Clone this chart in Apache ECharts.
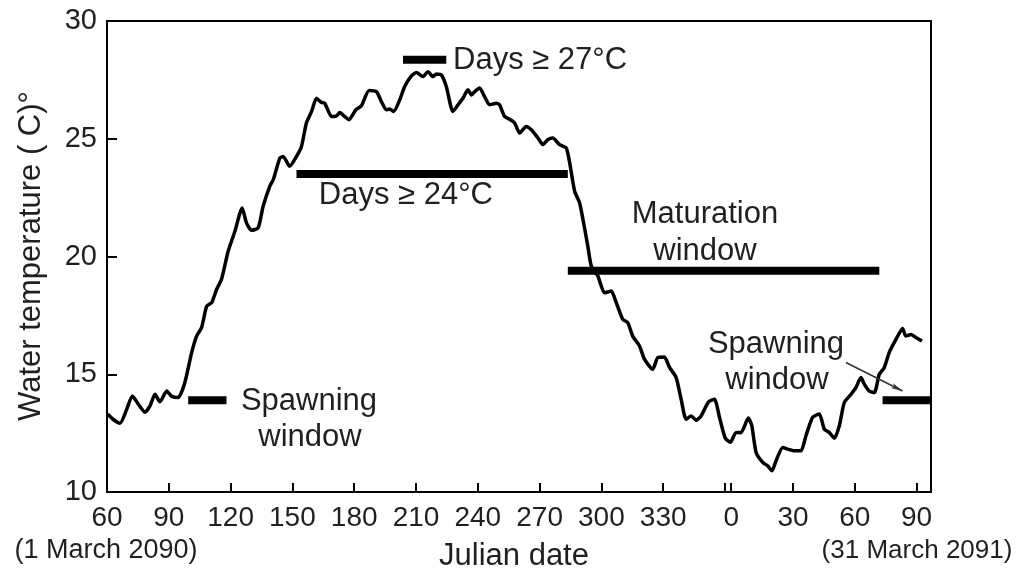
<!DOCTYPE html>
<html>
<head>
<meta charset="utf-8">
<title>Water temperature</title>
<script src="https://cdn.jsdelivr.net/npm/echarts@6/dist/echarts.min.js"></script>
<style>
html, body { margin: 0; padding: 0; background: #fff; }
#container { width: 1033px; height: 573px; }
</style>
</head>
<body>
<div id="container"></div>
<script>
// continuous day count: 60 = 1 March 2090, 363 = day 0 of 2091, 453 = 31 March 2091
var tempDay = [60.3, 62.9, 66.3, 69.6, 72.3, 75.2, 78.4, 80.9, 83.3, 85.7, 89.0, 91.4, 94.6, 97.8,
    101.1, 103.5, 105.9, 108.4, 110.8, 113.2, 115.6, 118.8, 122.1, 125.6, 127.7, 130.2, 133.4, 135.8,
    139.0, 140.7, 143.9, 145.5, 148.7, 152.0, 154.4, 156.8, 159.3, 161.7, 164.1, 165.7, 169.0, 171.4,
    173.0, 175.4, 177.5, 180.8, 183.5, 187.2, 190.8, 193.2, 195.6, 197.2, 199.2, 202.1, 204.5, 207.8,
    210.2, 213.4, 215.8, 218.2, 219.9, 222.3, 224.7, 227.9, 230.4, 232.8, 235.2, 236.9, 238.5, 240.9,
    243.3, 245.7, 249.0, 250.6, 253.0, 255.4, 257.9, 260.3, 263.5, 266.0, 269.2, 271.6, 274.0, 276.4,
    279.7, 282.9, 284.5, 287.0, 289.4, 291.8, 293.4, 295.1, 298.3, 301.5, 304.8, 307.2, 310.4, 312.8,
    315.2, 318.5, 320.9, 324.9, 327.4, 330.6, 333.0, 336.3, 338.7, 341.1, 343.6, 346.0, 348.4, 352.0,
    354.9, 357.3, 360.1, 362.6, 365.4, 367.8, 371.3, 373.0, 375.1, 378.3, 380.7, 382.8, 384.8, 388.0,
    390.4, 393.7, 396.9, 399.3, 402.5, 405.8, 408.2, 410.6, 413.1, 415.5, 417.9, 421.2, 423.6, 426.0,
    427.6, 430.0, 432.5, 434.9, 437.3, 439.7, 443.0, 446.2, 447.8, 450.3, 452.7, 455.6];
var tempValue = [13.31, 13.09, 12.92, 13.52, 14.08, 13.73, 13.39, 13.66, 14.15, 13.83, 14.29, 14.06, 14.01, 14.65,
    15.92, 16.62, 16.98, 17.89, 18.04, 18.60, 19.03, 20.22, 21.07, 22.06, 21.43, 21.11, 21.22, 22.13,
    22.98, 23.26, 24.18, 24.25, 23.83, 24.25, 24.67, 25.67, 26.16, 26.72, 26.54, 26.51, 25.94, 25.97,
    26.11, 25.94, 25.81, 26.23, 26.40, 27.05, 27.00, 26.58, 26.23, 26.26, 26.16, 26.65, 27.22, 27.67,
    27.81, 27.64, 27.85, 27.64, 27.75, 27.71, 27.22, 26.16, 26.44, 26.72, 27.08, 26.86, 27.00, 27.15,
    26.79, 26.44, 26.51, 26.44, 25.94, 25.83, 25.67, 25.24, 25.52, 25.38, 25.03, 24.75, 24.96, 25.03,
    24.75, 24.61, 24.03, 22.77, 22.28, 21.22, 20.44, 19.59, 19.17, 18.46, 18.53, 18.04, 17.33, 17.19,
    16.62, 16.20, 15.64, 15.21, 15.71, 15.73, 15.30, 14.86, 13.94, 13.09, 13.23, 13.05, 13.23, 13.83,
    13.94, 13.18, 12.29, 12.11, 12.53, 12.52, 13.14, 12.82, 11.68, 11.26, 11.11, 10.90, 11.33, 11.89,
    11.82, 11.75, 11.75, 12.39, 13.17, 13.31, 12.67, 12.53, 12.28, 12.81, 13.80, 14.15, 14.44, 14.86,
    14.58, 14.29, 14.22, 15.00, 15.28, 15.92, 16.48, 16.94, 16.62, 16.69, 16.56, 16.41];

// horizontal window / threshold bars
var barStart = [99.4, 152.0, 203.7, 283.7, 436.5];
var barEnd   = [118.0, 283.7, 224.7, 434.9, 460.0];
var barTemp  = [13.9, 23.5, 28.35, 19.4, 13.9];

// x ticks and their printed labels
var tickDays  = [60, 90, 120, 150, 180, 210, 240, 270, 300, 330, 360, 363, 393, 423, 453];
var labelDays = [60, 90, 120, 150, 180, 210, 240, 270, 300, 330, 363, 393, 423, 453];
var yearBreak = 363;

// arrow from the right-hand "Spawning window" label
var arrowFrom = [418.7, 15.5];
var arrowTo   = [446.2, 14.29];

var FONT = 'Liberation Sans, Arial, sans-serif';
var TXT = '#231f20';

var tempData = tempDay.map(function (d, i) { return [d, tempValue[i]]; });

var series = [{
    type: 'line',
    data: tempData,
    symbol: 'none',
    smooth: 0.2,
    lineStyle: { color: '#000', width: 3.5 },
    z: 3,
    silent: true
}];
barStart.forEach(function (s, i) {
    series.push({
        type: 'line',
        data: [[s, barTemp[i]], [barEnd[i], barTemp[i]]],
        symbol: 'none',
        lineStyle: { color: '#000', width: 8, cap: 'butt' },
        z: 2,
        silent: true
    });
});
series.push({
    type: 'line',
    data: [],
    silent: true,
    markLine: {
        silent: true,
        symbol: ['none', 'arrow'],
        symbolSize: [4, 12],
        label: { show: false },
        lineStyle: { color: '#333', width: 1.5, type: 'solid' },
        data: [[{ coord: arrowFrom }, { coord: arrowTo }]]
    }
});

function txt(text, x, y, align, size) {
    return {
        type: 'text', x: x, y: y, silent: true,
        style: { text: text, fill: TXT, font: (size || 31) + 'px ' + FONT, align: align || 'center', verticalAlign: 'middle' }
    };
}

var option = {
    animation: false,
    grid: {
        left: 107, top: 21, width: 824, height: 471,
        show: true, borderColor: '#000', borderWidth: 2, backgroundColor: 'transparent'
    },
    xAxis: {
        type: 'value', min: 60, max: 460,
        splitLine: { show: false },
        axisLine: { lineStyle: { color: '#000', width: 2 } },
        axisTick: { inside: true, length: 9, lineStyle: { color: '#000', width: 2 }, customValues: tickDays },
        axisLabel: {
            customValues: labelDays, margin: 12, fontSize: 28, fontFamily: FONT, color: TXT,
            formatter: function (v) { return String(v >= yearBreak ? Math.round(v - yearBreak) : Math.round(v)); }
        }
    },
    yAxis: {
        type: 'value', min: 10, max: 30, interval: 5,
        splitLine: { show: false },
        axisLine: { lineStyle: { color: '#000', width: 2 } },
        axisTick: { inside: true, length: 10, lineStyle: { color: '#000', width: 2 } },
        axisLabel: { margin: 10, fontSize: 29, fontFamily: FONT, color: TXT }
    },
    series: series,
    graphic: [
        txt('Days \u2265 27\u00b0C', 453, 60, 'left'),
        txt('Days \u2265 24\u00b0C', 493, 195, 'right'),
        txt('Maturation', 705, 214),
        txt('window', 705, 251),
        txt('Spawning', 309, 401),
        txt('window', 310, 437),
        txt('Spawning', 776, 344),
        txt('window', 777, 380),
        txt('Julian date', 514, 556),
        txt('(1 March 2090)', 106, 551, 'center', 27),
        txt('(31 March 2091)', 917, 551, 'center', 26),
        {
            type: 'text', x: 31, y: 256, rotation: Math.PI / 2, silent: true,
            style: { text: 'Water temperature ( C)\u00b0', fill: TXT, font: '31px ' + FONT, align: 'center', verticalAlign: 'middle' }
        }
    ]
};

var myChart = echarts.init(document.getElementById('container'));
myChart.setOption(option);
</script>
</body>
</html>
